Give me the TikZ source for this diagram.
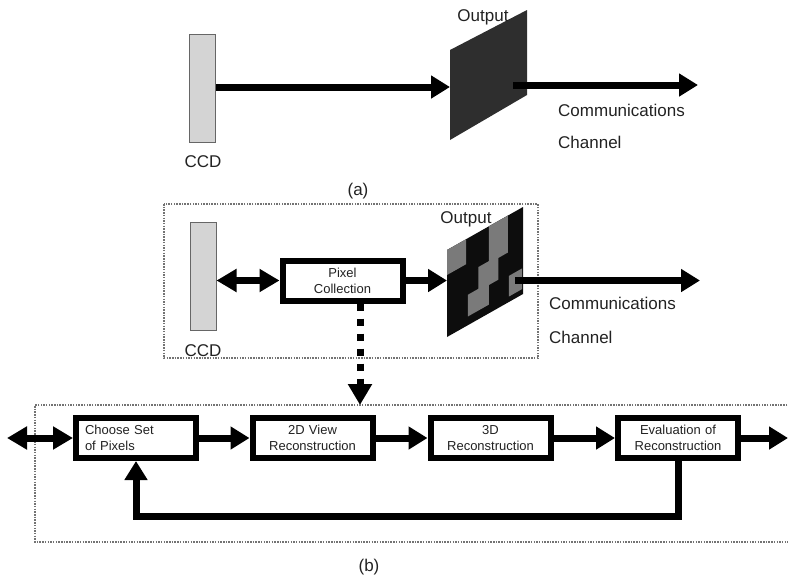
\documentclass[tikz,border=0pt]{standalone}
\usepackage{fontspec}
\setmainfont{Liberation Sans}
\usetikzlibrary{arrows.meta}
\definecolor{txt}{HTML}{222222}
\definecolor{ccdgray}{HTML}{D4D4D4}
\definecolor{darkout}{HTML}{2E2E2E}
\definecolor{cellgray}{HTML}{7A7A7A}
\begin{document}
\begin{tikzpicture}[x=1pt,y=-1pt,
  lbl/.style={text=txt, font=\fontsize{17}{19}\selectfont, inner sep=0pt},
  ccd/.style={draw=black!60, line width=1pt, fill=ccdgray, minimum width=26pt, minimum height=108pt, inner sep=0pt},
  blk/.style={draw=black, line width=6pt, fill=white, minimum height=40pt, text width=102pt, inner xsep=9pt, inner ysep=0pt, align=center, font=\fontsize{13}{16}\selectfont, text=txt},
  arr/.style={line width=7pt, -{Triangle[length=19pt,width=22pt]}},
  darr/.style={line width=7pt, {Triangle[length=20pt,width=22pt]}-{Triangle[length=20pt,width=22pt]}},
  dotbox/.style={draw=black!55, line width=1.5pt, dash pattern=on 1.5pt off 1.2pt}]
\useasboundingbox (0,0) rectangle (788,579);

% ---------- (a) ----------
\node[ccd] (ccdA) at (202.5,88.5) {};
\node[lbl] (ccdAl) at (203,162) {CCD};
\coordinate (inA) at (450,87);
\draw[arr] (ccdA.east |- inA) -- (inA);
\fill[darkout] (450,50) -- (527,10) -- (527,95) -- (450,140) -- cycle;
\coordinate (outA) at (513,85);
\coordinate (chA) at (698,85);
\draw[arr] (outA) -- (chA);
\node[lbl] (outlA) at (483,17) {Output};
\node[lbl, anchor=west] (commA) at (558,110) {Communications};
\node[lbl, anchor=west] (chanA) at (558,142) {Channel};
\node[lbl] (capA) at (358,191) {(a)};

% ---------- (b) upper ----------
\draw[dotbox] (164,204) rectangle (538,358);
\node[ccd] (ccdB) at (203,276.5) {};
\node[lbl] (ccdBl) at (203,351) {CCD};
\node[blk] (pc) at (342.5,280.5) {Pixel\\Collection};
\draw[darr] (ccdB.east |- pc.west) -- (pc.west);
\coordinate (inB) at (447,280.5);
\draw[arr] (pc.east) -- (inB);
\begin{scope}[shift={(447,250)}, x={(19pt,10.75pt)}, y={(0pt,-21.75pt)}]
  \fill[black!95] (0,0) -- (4,0) -- (4,4) -- (0,4) -- cycle;
  \fill[cellgray] (0,0) -- (1,0) -- (1,1.15) -- (0,1.15) -- cycle;
  \fill[cellgray] (2.2,0) -- (3.2,0) -- (3.2,1.7) -- (2.2,1.7) -- cycle;
  \fill[cellgray] (1.65,1.6) -- (2.7,1.6) -- (2.7,2.7) -- (1.65,2.7) -- cycle;
  \fill[cellgray] (1.1,2.6) -- (2.2,2.6) -- (2.2,3.6) -- (1.1,3.6) -- cycle;
  \fill[cellgray] (3.25,2.8) -- (3.95,2.8) -- (3.95,3.75) -- (3.25,3.75) -- cycle;
\end{scope}
\coordinate (outB) at (515,280.5);
\coordinate (chB) at (700,280.5);
\draw[arr] (outB) -- (chB);
\node[lbl] (outlB) at (466,219) {Output};
\node[lbl, anchor=west] (commB) at (549,303) {Communications};
\node[lbl, anchor=west] (chanB) at (549,337) {Channel};

% ---------- (b) lower ----------
\coordinate (dtip) at (360,405);
\draw[line width=7pt, dash pattern=on 7pt off 8pt] (pc.south -| dtip) -- (360,384);
\draw[line width=7pt, -{Triangle[length=21pt,width=23pt]}] (360,383) -- (dtip);
\draw[dotbox] (790,405) -- (35,405) -- (35,542) -- (790,542);
\node[blk, align=left] (choose) at (136,438) {Choose Set\\of Pixels};
\node[blk] (v2d) at (312.5,438) {2D View\\Reconstruction};
\node[blk] (r3d) at (490.5,438) {3D\\Reconstruction};
\node[blk] (eval) at (678,438) {Evaluation of\\Reconstruction};
\coordinate (lin) at (7,438);
\draw[darr] (lin) -- (choose.west);
\draw[arr] (choose) -- (v2d);
\draw[arr] (v2d) -- (r3d);
\draw[arr] (r3d) -- (eval);
\coordinate (rout) at (788,438);
\draw[arr] (eval) -- (rout);
\coordinate (fb) at (0,516);
\draw[arr] (eval.south) -- (eval.south |- fb) -- (choose.south |- fb) -- (choose.south);
\node[lbl] (capB) at (369,567) {(b)};
\end{tikzpicture}
\end{document}
